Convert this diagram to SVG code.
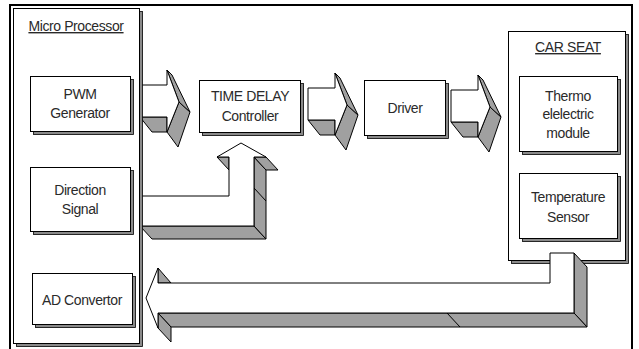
<svg xmlns="http://www.w3.org/2000/svg" xmlns:xlink="http://www.w3.org/1999/xlink" width="639" height="349" viewBox="0 0 639 349">
<style>
.box{fill:#fff;stroke:#000;stroke-width:1}
.sh{fill:#8a8a8a;stroke:#000;stroke-width:0.8}
.face{fill:#fff;stroke:#000;stroke-width:1;stroke-linejoin:miter}
.ext{fill:#a0a0a0;stroke:#000;stroke-width:1;stroke-linejoin:miter}
.ln{stroke:#000;stroke-width:1;fill:none}
text{font-family:"Liberation Sans",Arial,sans-serif;font-size:14px;fill:#2a2a2a;text-anchor:middle;letter-spacing:-0.4px}
.ttl{text-decoration:underline}
</style>
<defs>
<g id="blk">
<polygon class="ext" points="-27,32 0,32 0,47 -15,47"/>
<polygon class="ext" points="0,47 12,17 23,27 11,62"/>
<polygon class="ext" points="0,-15 5,-10 23,27 12,17"/>
<polygon class="face" points="-27,0 0,0 0,-15 12,17 0,47 0,32 -27,32"/>
</g>
</defs>
<rect x="0" y="0" width="639" height="349" fill="#fff"/>

<g id="carseat">
<rect class="sh" x="511.5" y="34.5" width="117" height="229"/>
<rect class="box" x="508.5" y="31.5" width="117" height="229"/>
<text class="ttl" x="568" y="52">CAR SEAT</text>
</g>
<g id="thermo">
<rect class="sh" x="522.5" y="79.5" width="98" height="75"/>
<rect class="box" x="519.5" y="76.5" width="98" height="75"/>
<text x="568" y="101">Thermo</text>
<text x="568" y="119">elelectric</text>
<text x="568" y="138">module</text>
</g>
<g id="tempsensor">
<rect class="sh" x="522.5" y="176.5" width="98" height="65"/>
<rect class="box" x="519.5" y="173.5" width="98" height="65"/>
<text x="568" y="202">Temperature</text>
<text x="568" y="222">Sensor</text>
</g>
<g id="timedelay">
<rect class="sh" x="202.5" y="83.5" width="101" height="52"/>
<rect class="box" x="199.5" y="80.5" width="101" height="52"/>
<text x="250" y="101">TIME DELAY</text>
<text x="250" y="121">Controller</text>
</g>
<g id="driver">
<rect class="sh" x="367.5" y="83.5" width="81" height="55"/>
<rect class="box" x="364.5" y="80.5" width="81" height="55"/>
<text x="405" y="113">Driver</text>
</g>

<g id="connectors">
<use xlink:href="#blk" href="#blk" transform="translate(167,85)"/>
<use xlink:href="#blk" href="#blk" transform="translate(335,88)"/>
<use xlink:href="#blk" href="#blk" transform="translate(478,90)"/>
<g id="dir-to-delay">
<polygon class="ext" points="140,226 254,226 266,239 152,239"/>
<polygon class="ext" points="254,157 266,170 266,239 254,226"/>
<polygon class="ext" points="254,157 266,157 278,170 266,170"/>
<polygon class="ext" points="217,157 229,157 229,170"/>
<line class="ln" x1="254" y1="188" x2="266" y2="201"/>
<polygon class="face" points="140,196 229,196 229,157 217,157 241,143 266,157 254,157 254,226 140,226"/>
</g>
<g id="seat-to-ad">
<polygon class="ext" points="574,253 587,267 587,327 574,313"/>
<polygon class="ext" points="158,313 574,313 587,327 171,327"/>
<polygon class="ext" points="158,313 171,327 171,342 158,328"/>
<polygon class="ext" points="158,268 171,283 158,283"/>
<line class="ln" x1="447" y1="313" x2="460" y2="327"/>
<polygon class="face" points="550,253 574,253 574,313 158,313 158,328 146,298 158,268 158,283 550,283"/>
</g>
</g>

<g id="microprocessor">
<rect class="sh" x="16.5" y="11.5" width="126" height="335"/>
<rect class="box" x="13.5" y="8.5" width="126" height="335"/>
<text class="ttl" x="76" y="31">Micro Processor</text>
</g>
<g id="pwm">
<rect class="sh" x="33.5" y="79.5" width="100" height="55"/>
<rect class="box" x="30.5" y="76.5" width="100" height="55"/>
<text x="80" y="99">PWM</text>
<text x="80" y="118">Generator</text>
</g>
<g id="direction">
<rect class="sh" x="33.5" y="170.5" width="100" height="64"/>
<rect class="box" x="30.5" y="167.5" width="100" height="64"/>
<text x="80" y="195">Direction</text>
<text x="80" y="214">Signal</text>
</g>
<g id="adconv">
<rect class="sh" x="35.5" y="276.5" width="100" height="51"/>
<rect class="box" x="32.5" y="273.5" width="100" height="51"/>
<text x="82" y="305">AD Convertor</text>
</g>

<rect x="10" y="5" width="622" height="360" fill="none" stroke="#000" stroke-width="2"/>
</svg>
